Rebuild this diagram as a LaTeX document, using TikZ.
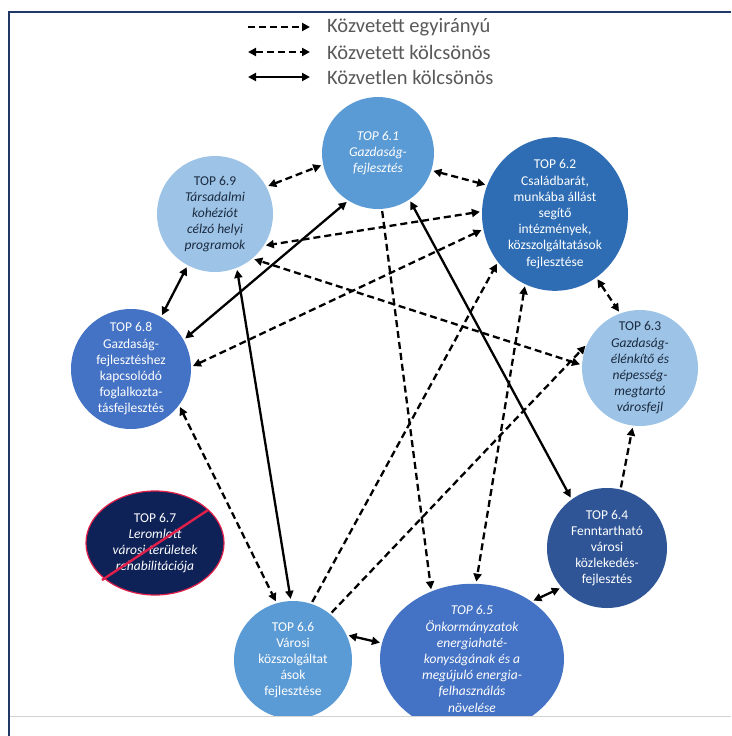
\documentclass[tikz,border=0pt]{standalone}
\usepackage{fontspec}
\setmainfont{Carlito}
\usetikzlibrary{arrows.meta,shapes.geometric}
\definecolor{frame}{HTML}{1F3864}
\definecolor{cA}{HTML}{5B9BD5}
\definecolor{cB}{HTML}{2E6DB4}
\definecolor{cL}{HTML}{9DC3E6}
\definecolor{cM}{HTML}{4472C4}
\definecolor{cD}{HTML}{2F5597}
\definecolor{cN}{HTML}{0E2258}
\definecolor{cR}{HTML}{E0204A}
\definecolor{txtD}{HTML}{1A2A40}
\definecolor{legtxt}{HTML}{595959}
\tikzset{
  tnode/.style={align=center, inner sep=0pt, font=\fontsize{13.5}{16.2}\selectfont},
  circ/.style={tnode, circle, minimum size=#1},
  ell/.style={tnode, ellipse},
  conn/.style={line width=2.3pt, black, shorten >=2pt, shorten <=2pt},
  dsh/.style={conn, dash pattern=on 7pt off 4pt, -{Triangle[length=8pt,width=8pt]}},
  ddb/.style={conn, dash pattern=on 7pt off 4pt, {Triangle[length=8pt,width=8pt]}-{Triangle[length=8pt,width=8pt]}},
  sdb/.style={conn, {Triangle[length=8pt,width=8pt]}-{Triangle[length=8pt,width=8pt]}},
  legend/.style={anchor=west, inner sep=0pt, text=legtxt, font=\fontsize{20.5}{22}\selectfont}
}
\begin{document}
\begin{tikzpicture}[x=1pt,y=-1pt]
\useasboundingbox (0,0) rectangle (731,736);
\fill[white] (0,0) rectangle (731,736);

% legend
\coordinate (la1) at (248,27); \coordinate (lb1) at (310,27);
\coordinate (la2) at (248,52); \coordinate (lb2) at (310,52);
\coordinate (la3) at (248,77); \coordinate (lb3) at (310,77);
\draw[dsh,shorten >=0pt,shorten <=0pt,line width=2.6pt] (la1) -- (lb1);
\draw[ddb,shorten >=0pt,shorten <=0pt,line width=2.6pt] (la2) -- (lb2);
\draw[sdb,shorten >=0pt,shorten <=0pt,line width=2.6pt] (la3) -- (lb3);
\node[legend] (lt1) at (327,27) {Közvetett egyirányú};
\node[legend] (lt2) at (327,52) {Közvetett kölcsönös};
\node[legend] (lt3) at (327,77) {Közvetlen kölcsönös};

% nodes
\node[circ=112pt, fill=cA, text=white] (n61) at (378,153) {\itshape TOP 6.1\\\itshape Gazdaság-\\\itshape fejlesztés};
\node[ell, fill=cB, text=white, minimum width=146pt, minimum height=108pt] (n62) at (555,214) {TOP 6.2\\Családbarát,\\munkába állást\\segítő\\intézmények,\\közszolgáltatások\\fejlesztése};
\node[circ=116pt, fill=cL, text=txtD] (n69) at (215,214) {TOP 6.9\\\itshape Társadalmi\\\itshape kohéziót\\\itshape célzó helyi\\\itshape programok};
\node[circ=120pt, fill=cM, text=white] (n68) at (131,369) {TOP 6.8\\Gazdaság-\\fejlesztéshez\\kapcsolódó\\foglalkozta-\\tásfejlesztés};
\node[circ=116pt, fill=cL, text=txtD] (n63) at (640,368) {TOP 6.3\\\itshape Gazdaság-\\\itshape élénkítő és\\\itshape népesség-\\\itshape megtartó\\\itshape városfejl};
\node[ell, fill=cN, draw=cR, line width=1.2pt, text=white, minimum width=138pt, minimum height=104pt] (n67) at (155,543) {TOP 6.7\\\itshape Leromlott\\\itshape városi területek\\\itshape rehabilitációja};
\coordinate (s1) at (102,580); \coordinate (s2) at (208,510);
\draw[cR, line width=2.4pt] (s1) -- (s2);
\node[circ=120pt, fill=cD, text=white] (n64) at (607,548) {TOP 6.4\\Fenntartható\\városi\\közlekedés-\\fejlesztés};
\node[circ=118pt, fill=cA, text=white] (n66) at (293,660) {TOP 6.6\\Városi\\közszolgáltat\\ások\\fejlesztése};
\node[ell, fill=cM, text=white, minimum width=184pt, minimum height=118pt] (n65) at (472,659) {\itshape TOP 6.5\\\itshape Önkormányzatok\\\itshape energiahaté-\\\itshape konyságának és a\\\itshape megújuló energia-\\\itshape felhasználás\\\itshape növelése};

% connectors
\draw[ddb] (n69.28) -- (n61.192);
\draw[ddb] (n61.-18) -- (n62.157);
\draw[ddb] (n62.-57) -- (n63.110);
\draw[dsh] (n64.77) -- (n63.-97);
\draw[sdb] (n65.44) -- (n64.221);
\draw[sdb] (n66.25) -- (n65.170);
\draw[sdb] (n69.242) -- (n68.60);
\draw[sdb] (n61.238) -- (n68.29);
\draw[ddb] (n62.192) -- (n68.2);
\draw[ddb] (n62.178) -- (n69.-33);
\draw[ddb] (n63.177) -- (n69.-50);
\draw[sdb] (n69.-68) -- (n66.92);
\draw[sdb] (n61.-56) -- (n64.126);
\draw[dsh] (n61.-86) -- (n65.121);
\draw[ddb] (n62.247) -- (n65.87);
\draw[dsh] (n66.72) -- (n62.220);
\draw[dsh] (n66.51) -- (n63.156);
\draw[ddb] (n68.-37) -- (n66.106);

% frame
\fill[white] (9,716) rectangle (731,736);
\draw[gray!35, line width=1pt] (9,716) -- (731,716);
\draw[frame, line width=1.4pt] (9,736) -- (9,12) -- (731,12);
\end{tikzpicture}
\end{document}
